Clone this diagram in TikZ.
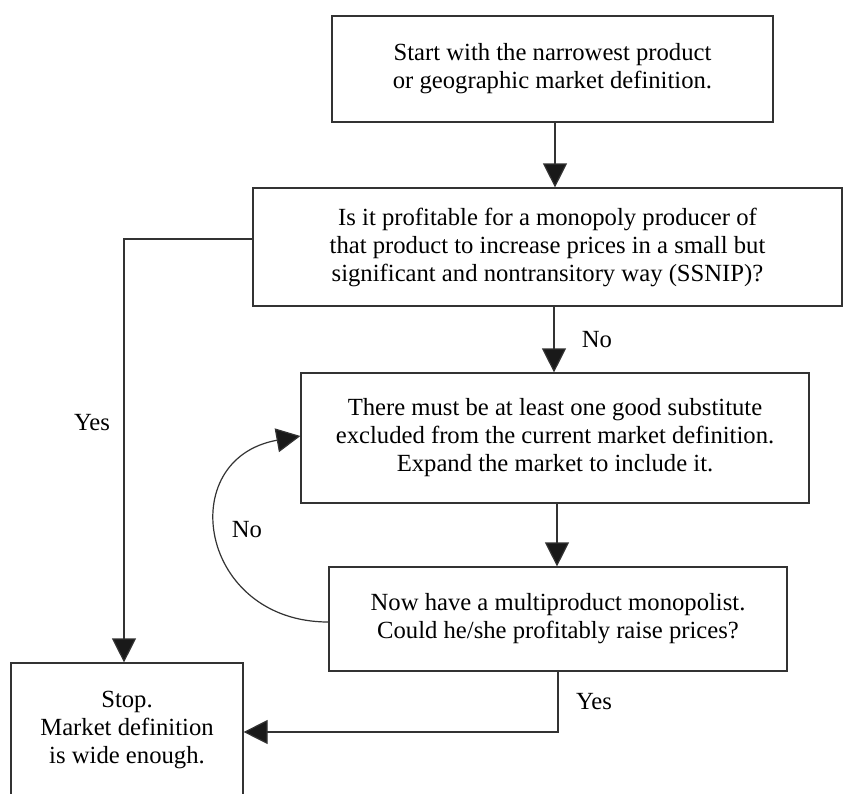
\documentclass[tikz,border=0pt]{standalone}
\usepackage{fontspec}
\setmainfont{Liberation Serif}
\usetikzlibrary{arrows.meta}
\begin{document}
\begin{tikzpicture}[x=0.75pt,y=-0.75pt,
  box/.style={draw=black!80, line width=0.9pt, inner sep=0pt, align=center,
    font=\fontsize{18.5pt}{21pt}\selectfont},
  lbl/.style={font=\fontsize{18.5pt}{21pt}\selectfont, inner sep=0pt},
  conn/.style={draw=black!80, line width=0.9pt},
  arr/.style={conn, -{Triangle[length=18pt,width=18pt,fill=black!90]}}]
\useasboundingbox (0,0) rectangle (849,793);
\fill[white] (0,0) rectangle (849,793);

\node[box, minimum width=441*0.75pt, minimum height=106*0.75pt] (b1) at (552.5,69)
  {Start with the narrowest product\\ or geographic market definition.};
\node[box, minimum width=589*0.75pt, minimum height=118*0.75pt] (b2) at (547.5,247)
  {Is it profitable for a monopoly producer of\\ that product to increase prices in a small but\\ significant and nontransitory way (SSNIP)?};
\node[box, minimum width=508*0.75pt, minimum height=130*0.75pt] (b3) at (555,438)
  {There must be at least one good substitute\\ excluded from the current market definition.\\ Expand the market to include it.};
\node[box, minimum width=458*0.75pt, minimum height=104*0.75pt] (b4) at (558,619)
  {Now have a multiproduct monopolist.\\ Could he/she profitably raise prices?};
\node[box, minimum width=232*0.75pt, minimum height=134*0.75pt] (b5) at (127,730)
  {Stop.\\ Market definition\\ is wide enough.};

\coordinate (x1) at (555,0);
\coordinate (x2) at (554,0);
\coordinate (x3) at (557,0);
\coordinate (x4) at (558,0);
\coordinate (xl) at (124,0);
\coordinate (yl) at (0,239);
\coordinate (yb) at (0,732);

\draw[arr] (b1.south -| x1) -- (b2.north -| x1);
\draw[arr] (b2.south -| x2) -- (b3.north -| x2);
\draw[arr] (b3.south -| x3) -- (b4.north -| x3);
\draw[arr] (b2.west |- yl) -| (b5.north -| xl);
\draw[arr] (b4.south -| x4) |- (b5.east |- yb);

\coordinate (cs) at (b4.west |- 0,622);
\coordinate (ce) at (b3.west |- 0,436);
\draw[arr] (cs) .. controls (199,622) and (173,459) .. (ce);

\node[lbl] (no1) at (597,340) {No};
\node[lbl] (yes1) at (92,423) {Yes};
\node[lbl] (no2) at (247,530) {No};
\node[lbl] (yes2) at (594,702) {Yes};
\end{tikzpicture}
\end{document}
